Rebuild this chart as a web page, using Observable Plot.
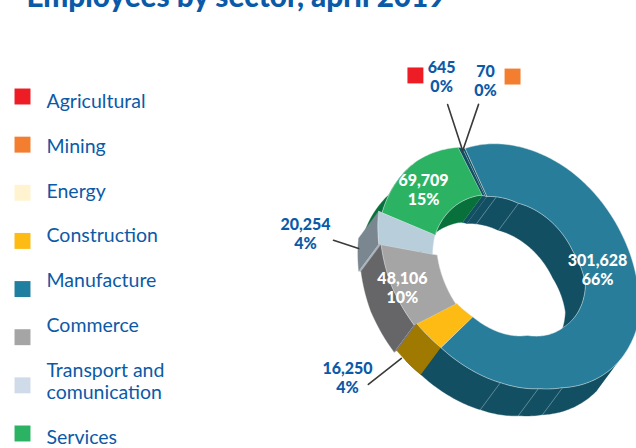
<!DOCTYPE html>
<html><head><meta charset="utf-8">
<script src="https://cdn.jsdelivr.net/npm/d3@7"></script>
<script src="https://cdn.jsdelivr.net/npm/@observablehq/plot@0.6"></script>
<style>html,body{margin:0;padding:0;background:#fff;overflow:hidden}svg{display:block}</style>
</head><body><div id="chart"></div>
<script>
// ---- data ----
const titleText = "Employees by sector, april 2019";
const sectors = ["Agricultural","Mining","Energy","Construction","Manufacture","Commerce","Transport and\ncomunication","Services"];
const employees = [645,70,0,16250,301628,48106,20254,69709];
const percents = [0,0,0,4,66,10,4,15];
const legendColors = ["#ee1c25","#f37e2f","#fff4cf","#fdbb13","#1f7fa0","#a5a5a5","#cfdbe8","#2bb363"];

// ---- styles ----
const blue = "#0b5aa8";
const topColors = {Agricultural:"#134f62",Mining:"#134f62",Construction:"#fdbb13",Manufacture:"#287e9a",Commerce:"#a5a5a5",Transport:"#b8cedb",Services:"#2bb363"};
const wallColors = {Construction:"#a07900",Manufacture:"#134f62",Commerce:"#666668",Transport:"#7a8791",Services:"#07703b"};
const ringOrder = [4,3,5,6,7,0,1]; // clockwise from the top of the ring
const key = i => sectors[i].split(" ")[0];

// ---- oblique projection of the ring ----
const cx = 520, cy = 270, ra = 137, rb = 105, tilt = 55 * Math.PI / 180;
const depth = [-20, 27];
const rad = Math.PI / 180;
const project = (r, deg) => {
  const A = ra * r * Math.cos(deg * rad), B = rb * r * Math.sin(deg * rad);
  return [cx + A * Math.cos(tilt) - B * Math.sin(tilt), cy + A * Math.sin(tilt) + B * Math.cos(tilt)];
};
// cumulative employees to ellipse angle (mild perspective warp)
const cumulative = d3.cumsum(ringOrder.map(i => employees[i]));
const toAngle = d3.scaleLinear().domain([0, ...cumulative]).range([193.7,443,456,488,500.5,550.6,552.6,553.7]);
const eps = 0.02;
const outerStops = [[193.7,.99],[249,1.01],[283,1.01],[326,1.02],[346,.99],[380,.93],[392,.93],[412,.966],[429,1.01],[443,1.05],[456,1.105],[456.01,1.134],[473,1.18],[488,1.2],[488.01,1.22],[500.5,1.23],[500.51,1.2],[510.6,1.17],[529.6,1.107],[550.6,1.015],[553.7,.99]];
const innerStops = [[193.7,.6],[220,.54],[281,.524],[310,.558],[357,.52],[396,.514],[443,.63],[456,.68],[456.01,.69],[488,.716],[488.01,.756],[500.5,.74],[549.5,.624],[553.7,.6]];
const rOuter = d3.scaleLinear().domain(outerStops.map(d => d[0])).range(outerStops.map(d => d[1]));
const rInner = d3.scaleLinear().domain(innerStops.map(d => d[0])).range(innerStops.map(d => d[1]));

const arc = (a0, a1, rf) => {
  const n = Math.max(2, Math.ceil(Math.abs(a1 - a0)));
  return d3.range(n + 1).map(k => { const a = a0 + (a1 - a0) * k / n; return project(rf(a), a); });
};
const drop = pts => pts.map(([x, y]) => [x + depth[0], y + depth[1]]);
const topFace = (a0, a1) => [...arc(a0, a1, rOuter), ...arc(a1, a0, rInner)];
const wall = (a0, a1, rf) => { const p = arc(a0, a1, rf); return [...p, ...drop(p).reverse()]; };
const cut = a => { const o = project(rOuter(a), a), n = project(rInner(a), a); return [o, n, ...drop([n, o])]; };

const bounds = ringOrder.map((i, k) => [toAngle(k ? cumulative[k - 1] : 0) + eps, toAngle(cumulative[k]) - eps]);
const span = name => bounds[ringOrder.findIndex(i => key(i) === name)];
const face = (pts, fill, extra = {}) => Plot.line(pts, {x: d => d[0], y: d => d[1], fill, stroke: fill, strokeWidth: .4, ...extra});

const [m0, m1] = span("Manufacture"), [c0, c1] = span("Construction"), [o0, o1] = span("Commerce"), [t0, t1] = span("Transport"), [s0, s1] = span("Services");
const walls = [
  face(wall(m0, 346, rInner), wallColors.Manufacture),
  face(wall(s1, 553.7, rInner), wallColors.Manufacture),
  face(wall(500.5, s1, rInner), wallColors.Services),
  face(wall(346, m1 + 8, rOuter), wallColors.Manufacture),
  face(wall(s0, 526, rOuter), wallColors.Services),
  face(cut(t0), "#aab4bb"),
  face(wall(t0, t1, rOuter), wallColors.Transport),
  face(cut(o0), "#77777a"),
  face(wall(o0, o1, rOuter), wallColors.Commerce),
  face(wall(c0, c1, rOuter), wallColors.Construction)
];
const tops = ringOrder.filter(i => employees[i] > 0).map(i => {
  const [a0, a1] = bounds[ringOrder.indexOf(i)];
  return face(topFace(a0, a1), topColors[key(i)], {stroke: "#e8eef0", strokeWidth: .5});
});
// seams in the dark walls of the big slice
const seam = (a, rf) => { const p = project(rf(a), a); return [p, drop([p])[0]]; };
const seams = [[379.6, rOuter], [393, rOuter], [412.7, rOuter], [201.6, rInner], [220.6, rInner]]
  .map(([a, rf]) => Plot.line(seam(a, rf), {x: d => d[0], y: d => d[1], stroke: "#8fb0bd", strokeWidth: .6}));

// ---- labels: ring polar placement of each sector's callout ----
const sectorLabel = i => `${d3.format(",")(employees[i])}\n${percents[i]}%`;
const labelSpots = [
  {i: 4, r: .684, a: 297.6, fill: "#fff"},
  {i: 5, r: 1.087, a: 111.2, fill: "#fff"},
  {i: 7, r: .944, a: 160.6, fill: "#fff"},
  {i: 6, r: 1.853, a: 127.3, fill: blue},
  {i: 3, r: 1.936, a: 92.5, fill: blue},
  {i: 0, r: 1.555, a: 196.6, fill: blue},
  {i: 1, r: 1.493, a: 210.8, fill: blue}
].map(d => { const p = project(d.r, d.a); return {x: p[0], y: p[1], text: sectorLabel(d.i), fill: d.fill}; });
const leaders = [
  [[1.341, 194.6], [.98, 192]],
  [[1.305, 206.4], [.98, 192]],
  [[1.613, 126.7], [1.40, 125.3]],
  [[1.81, 88.6], [1.41, 88.9]]
].map(seg => seg.map(([r, a]) => project(r, a)));
const chips = [{i: 0, r: 1.625, a: 188.7}, {i: 1, r: 1.555, a: 219.9}]
  .map(d => { const p = project(d.r, d.a); return {x: p[0], y: p[1], sector: sectors[d.i]}; });

// ---- legend rows ----
let extraLines = 0;
const legendRows = sectors.map((s, i) => {
  const lines = s.split("\n").length;
  const row = {sector: s, boxY: 96 + 48.14 * i, textY: 100 + 44.9 * i + extraLines * 22 + (lines - 1) * 11};
  extraLines += lines - 1;
  return row;
});

const chart = Plot.plot({
  width: 636, height: 448, margin: 0,
  x: {domain: [0, 636], range: [0, 636], axis: null},
  y: {domain: [0, 448], range: [0, 448], axis: null},
  color: {domain: sectors, range: legendColors},
  style: {background: "#fff"},
  marks: [
    ...walls, ...tops, ...seams,
    ...leaders.map(seg => Plot.line(seg, {x: d => d[0], y: d => d[1], stroke: "#3a3a3a", strokeWidth: 1.6})),
    Plot.dot(chips, {x: "x", y: "y", symbol: "square", r: 9, fill: "sector"}),
    Plot.text(labelSpots, {x: "x", y: "y", text: "text", fill: "fill", fontFamily: "Lato", fontWeight: 900, fontSize: 16, lineHeight: 1.2, lineAnchor: "middle"}),
    Plot.dot(legendRows, {x: () => 22, y: "boxY", symbol: "square", r: 9, fill: "sector"}),
    Plot.text(legendRows, {x: () => 46, y: "textY", text: "sector", textAnchor: "start", lineAnchor: "middle", lineHeight: 1.16, fill: blue, fontFamily: "Lato", fontSize: 19.5}),
    Plot.text([titleText], {x: () => 26, y: () => -3, text: d => d, textAnchor: "start", lineAnchor: "middle", fill: blue, fontFamily: "Lato", fontWeight: 900, fontSize: 29.7})
  ]
});
document.getElementById("chart").append(chart);
</script>
</body></html>
